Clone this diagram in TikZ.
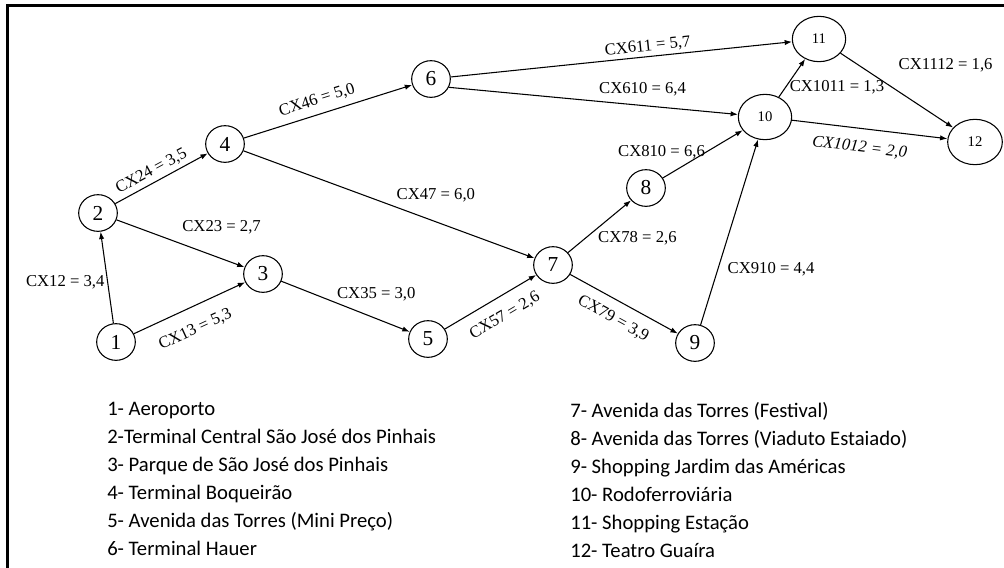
\documentclass[tikz,border=0pt]{standalone}
\usepackage{fontspec}
\setmainfont{Liberation Serif}
\newfontfamily\keyfont{Carlito}
\usetikzlibrary{arrows.meta,shapes.geometric}

\begin{document}
\begin{tikzpicture}[
  x=0.75pt, y=-0.75pt,
  station/.style={draw, ellipse, inner sep=0pt, minimum width=29pt, minimum height=27.5pt,
    font=\fontsize{16}{16}\selectfont, line width=0.8pt},
  hub/.style={station, minimum width=40pt, minimum height=34pt, font=\fontsize{11}{11}\selectfont},
  arrow/.style={-{Latex[length=5.5pt,width=4pt]}, line width=0.8pt},
  cost/.style={font=\fontsize{12.5}{13}\selectfont, inner sep=1pt},
  keytext/.style={font=\keyfont\fontsize{15.5}{21}\selectfont, align=left, inner sep=0pt}
]
  \useasboundingbox (0,0) rectangle (1004,568);

  % frame (cut at right and bottom)
  \draw[line width=2.2pt] (7.5,568) -- (7.5,5.5) -- (1004,5.5);

  % --- stations ---
  \node[station] (n1) at (116,342) {1};
  \node[station] (n2) at (98,213) {2};
  \node[station] (n3) at (263,274) {3};
  \node[station] (n4) at (225,144) {4};
  \node[station] (n5) at (428,339) {5};
  \node[station] (n6) at (431,79) {6};
  \node[station] (n7) at (553,265) {7};
  \node[station] (n8) at (646,188) {8};
  \node[station] (n9) at (695,343) {9};
  \node[hub] (n10) at (765,117) {10};
  \node[hub] (n11) at (819,39) {11};
  \node[hub, minimum width=41pt] (n12) at (975,142) {12};

  % --- links ---
  \draw[arrow] (n1) -- node[cost, pos=0.45, left=1pt] {CX12 = 3,4} (n2);
  \draw[arrow] (n1) -- node[cost, pos=0.47, below=10pt, sloped] {CX13 = 5,3} (n3);
  \draw[arrow] (n2) -- node[cost, pos=0.45, above=2pt, sloped] {CX24 = 3,5} (n4);
  \draw[arrow] (n2) -- node[cost, pos=0.5, anchor=south west, yshift=6pt] {CX23 = 2,7} (n3);
  \draw[arrow] (n4) -- node[cost, pos=0.46, above=4pt, sloped] {CX46 = 5,0} (n6);
  \draw[arrow] (n4) -- node[cost, pos=0.52, anchor=south west, yshift=2pt] {CX47 = 6,0} (n7);
  \draw[arrow] (n3) -- node[cost, pos=0.42, anchor=south west] {CX35 = 3,0} (n5);
  \draw[arrow] (n5) -- node[cost, pos=0.55, below=8pt, sloped] {CX57 = 2,6} (n7);
  \draw[arrow] (n7) -- node[cost, pos=0.45, anchor=north west, yshift=-0.5pt] {CX78 = 2,6} (n8);
  \draw[arrow] (n7) -- node[cost, pos=0.48, below=7pt, sloped] {CX79 = 3,9} (n9);
  \draw[arrow] (n8) -- node[cost, pos=0.55, anchor=east] {CX810 = 6,6} (n10);
  \draw[arrow] (n9) -- node[cost, pos=0.3, right=6pt] {CX910 = 4,4} (n10);
  \draw[arrow] (n6.-25) -- node[cost, pos=0.67, above=6pt] {CX610 = 6,4} (n10);
  \draw[arrow] (n6) -- node[cost, pos=0.58, above=1pt, sloped] {CX611 = 5,7} (n11);
  \draw[arrow] (n10) -- node[cost, pos=0.27, right=1.5pt] {CX1011 = 1,3} (n11);
  \draw[arrow] (n10) -- node[cost, pos=0.45, below=8pt, sloped, font=\fontsize{12.5}{13}\selectfont\itshape] {CX1012 = 2,0} (n12);
  \draw[arrow] (n11) -- node[cost, pos=0.5, anchor=south west, yshift=12pt] {CX1112 = 1,6} (n12);

  % --- key ---
  \node[keytext, anchor=north west] (keyA) at (107,402)
    {1- Aeroporto\\2-Terminal Central São José dos Pinhais\\3- Parque de São José dos Pinhais\\4- Terminal Boqueirão\\5- Avenida das Torres (Mini Preço)\\6- Terminal Hauer};
  \node[keytext, anchor=north west] (keyB) at (570,402)
    {7- Avenida das Torres (Festival)\\8- Avenida das Torres (Viaduto Estaiado)\\9- Shopping Jardim das Américas\\10- Rodoferroviária\\11- Shopping Estação\\12- Teatro Guaíra};
\end{tikzpicture}
\end{document}
